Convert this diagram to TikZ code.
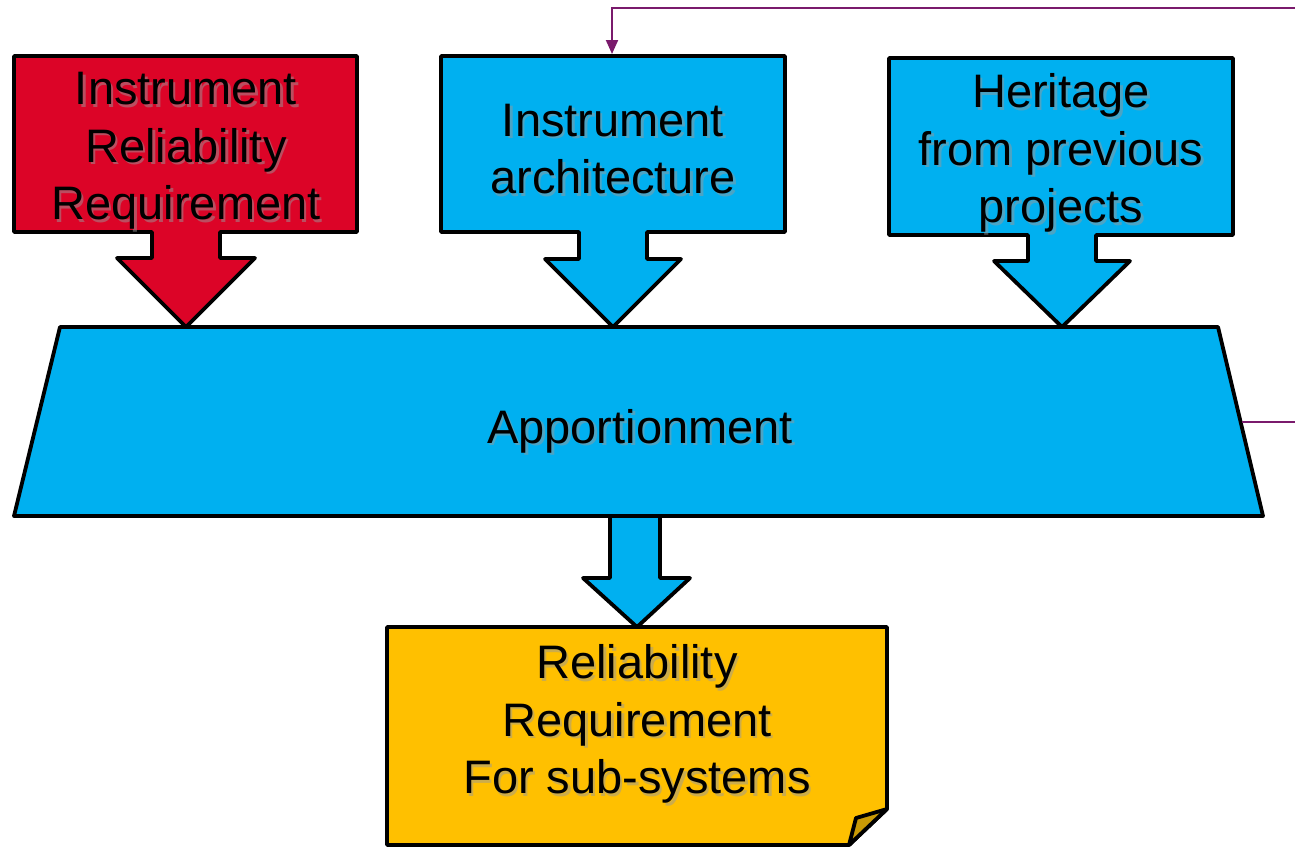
\documentclass[tikz,border=0pt]{standalone}
\usepackage{fontspec}
\setmainfont{Liberation Sans}
\usetikzlibrary{arrows.meta}

\definecolor{reqred}{HTML}{DC0427}
\definecolor{skyblue}{HTML}{00B0F0}
\definecolor{amber}{HTML}{FFC000}
\definecolor{amberdark}{HTML}{C99A06}
\definecolor{plum}{HTML}{7A1A6C}

% label with a soft drop shadow: name, x, y, text
\newcommand\shadowlabel[4]{%
  \node[lbl, text=black!40, opacity=0.5] at (#2+2.5,#3+2.5) {#4};
  \node[lbl] (#1) at (#2,#3) {#4};
}

\begin{document}
\begin{tikzpicture}[x=1pt,y=-1pt,
  outline/.style={draw=black, line width=3.8pt, line join=round},
  lbl/.style={font=\fontsize{47}{57.5}\selectfont, align=center, text=black, inner sep=0pt},
  feedback/.style={draw=plum, line width=2pt, -{Triangle[length=14pt,width=12pt]}}]
\useasboundingbox (0,0) rectangle (1295,847);
\clip (0,0) rectangle (1295,847);

% input callouts
\path[outline, fill=reqred]
  (14,56) -- (357,56) -- (357,232) -- (220,232) -- (220,258) -- (255,258)
  -- (186,327) -- (117,258) -- (152,258) -- (152,232) -- (14,232) -- cycle;
\path[outline, fill=skyblue]
  (441,56) -- (785,56) -- (785,232) -- (647,232) -- (647,259) -- (681,259)
  -- (613,327) -- (545,259) -- (579,259) -- (579,232) -- (441,232) -- cycle;
\path[outline, fill=skyblue]
  (889,58) -- (1233,58) -- (1233,235) -- (1096,235) -- (1096,261) -- (1130,261)
  -- (1062,327) -- (994,261) -- (1028,261) -- (1028,235) -- (889,235) -- cycle;

% output arrow
\path[outline, fill=skyblue]
  (610,516) -- (660,516) -- (660,578) -- (690,578) -- (637,627)
  -- (583,578) -- (610,578) -- cycle;

% apportionment block
\path[outline, fill=skyblue]
  (60,327) -- (1218,327) -- (1263,516) -- (14,516) -- cycle;

% result sheet with folded corner
\path[outline, fill=amber]
  (387,627) -- (887,627) -- (887,809) -- (849,845) -- (387,845) -- cycle;
\path[outline, fill=amberdark]
  (887,809) -- (856,818) -- (849,845) -- cycle;

% texts
\shadowlabel{req}{186}{151}{Instrument\\Reliability\\Requirement}
\shadowlabel{arch}{613}{149}{Instrument\\architecture}
\shadowlabel{heritage}{1061}{153}{Heritage\\from previous\\projects}
\shadowlabel{apport}{640}{431}{Apportionment}
\shadowlabel{subsys}{637}{724}{Reliability\\Requirement\\For sub-systems}

% feedback loop from apportionment back to the architecture
\coordinate (apportR) at (1242,422);
\coordinate (archTop) at (612,54);
\draw[feedback] (apportR) -- (1320,422) |- (612,8) -- (archTop);
\end{tikzpicture}
\end{document}
